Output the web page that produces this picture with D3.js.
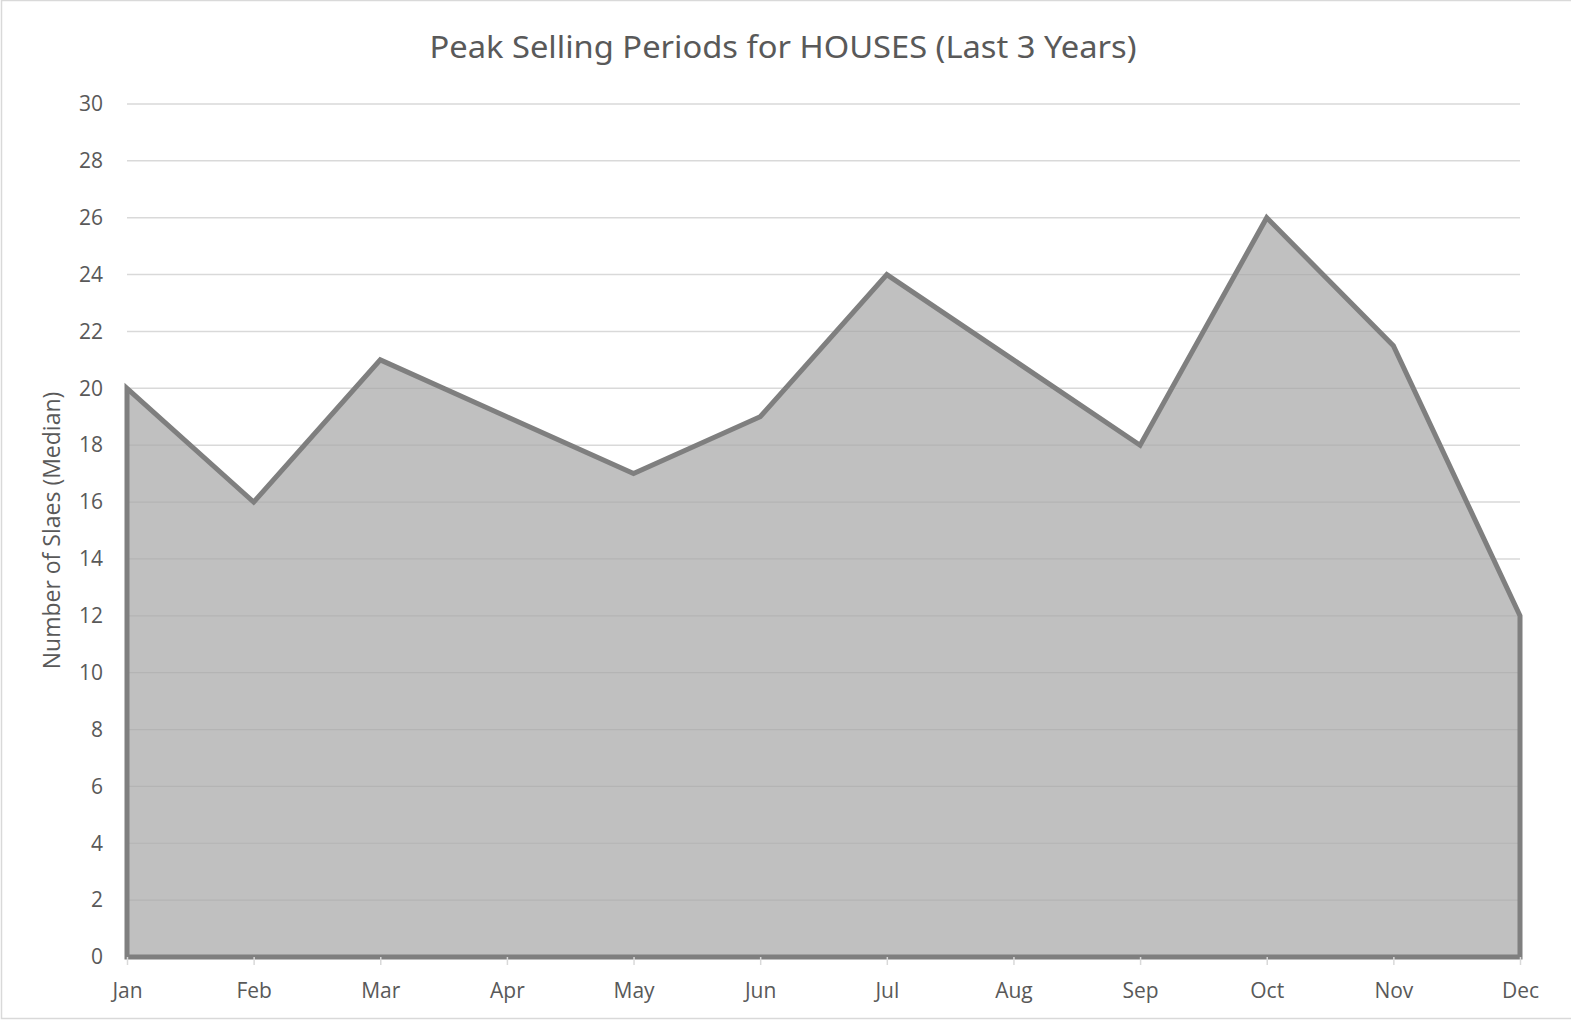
<!DOCTYPE html>
<html><head><meta charset="utf-8">
<script src="https://cdn.jsdelivr.net/npm/d3@7"></script>
<style>html,body{margin:0;padding:0;background:#fff;overflow:hidden}</style>
</head><body><svg id="chart" width="1571" height="1022"></svg>
<script>
const months = ["Jan","Feb","Mar","Apr","May","Jun","Jul","Aug","Sep","Oct","Nov","Dec"];
const sales = [20,16,21,19,17,19,24,21,18,26,21.5,12];
const yTicks = [0,2,4,6,8,10,12,14,16,18,20,22,24,26,28,30];
const title = "Peak Selling Periods for HOUSES (Last 3 Years)";
const yTitle = "Number of Slaes (Median)";

const svg = d3.select("#chart");
const W = 1571, H = 1022;
const m = {left:127, right:51, top:104, bottom:65};
const font = "'Open Sans', 'Noto Sans', sans-serif";

svg.append("rect").attr("x",1.5).attr("y",0.5).attr("width",W+4).attr("height",1018)
  .attr("fill","#fff").attr("stroke","#d9d9d9").attr("stroke-width",1.5);

const x = d3.scalePoint().domain(months).range([m.left, W-m.right]);
const y = d3.scaleLinear().domain([0,30]).range([H-m.bottom, m.top]);

// gridlines
svg.append("g").selectAll("line").data(yTicks.filter(d=>d>0)).join("line")
  .attr("x1",m.left).attr("x2",W-m.right)
  .attr("y1",d=>y(d)).attr("y2",d=>y(d))
  .attr("stroke","#d9d9d9").attr("stroke-width",1.5);

// area
const data = months.map((mo,i)=>({m:mo,v:sales[i]}));
const area = d3.area().x(d=>x(d.m)).y0(y(0)).y1(d=>y(d.v));
svg.append("path").datum(data).attr("d",area)
  .attr("fill","#c0c0c0").attr("fill-opacity",1);

// gridlines over area (subtle)
svg.append("clipPath").attr("id","areaClip").append("path").datum(data).attr("d",area);
svg.append("g").selectAll("line").data(yTicks.filter(d=>d>0)).join("line")
  .attr("x1",m.left).attr("x2",W-m.right)
  .attr("y1",d=>y(d)).attr("y2",d=>y(d))
  .attr("stroke","#b4b4b4").attr("stroke-width",1.2)
  .attr("clip-path","url(#areaClip)");

// outline of area
svg.append("path").datum(data).attr("d",area)
  .attr("fill","none").attr("stroke","#7f7f7f").attr("stroke-width",5)
  .attr("stroke-linejoin","miter");

// x axis
const xa = svg.append("g").attr("transform",`translate(0,${y(0)})`)
  .call(d3.axisBottom(x).tickSize(8).tickSizeOuter(0).tickPadding(18));
xa.select(".domain").remove();
xa.selectAll(".tick line").attr("stroke","#d9d9d9").attr("stroke-width",1.5);
xa.selectAll(".tick text").attr("font-family",font).attr("font-size",21).attr("fill","#595959");

// y axis
const ya = svg.append("g").attr("transform",`translate(${m.left},0)`)
  .call(d3.axisLeft(y).tickValues(yTicks).tickSize(0).tickPadding(24));
ya.select(".domain").remove();
ya.selectAll(".tick text").attr("font-family",font).attr("font-size",21).attr("fill","#595959");

// title
svg.append("text").attr("x",783).attr("y",58).attr("text-anchor","middle")
  .attr("font-family","'Noto Sans', sans-serif").attr("font-size",31).attr("fill","#595959")
  .attr("textLength",707).attr("lengthAdjust","spacingAndGlyphs").text(title);

// y title
svg.append("text").attr("transform",`translate(60,${(y(0)+y(30))/2}) rotate(-90)`)
  .attr("text-anchor","middle").attr("font-family",font).attr("font-size",23).attr("fill","#595959")
  .text(yTitle);
</script></body></html>
